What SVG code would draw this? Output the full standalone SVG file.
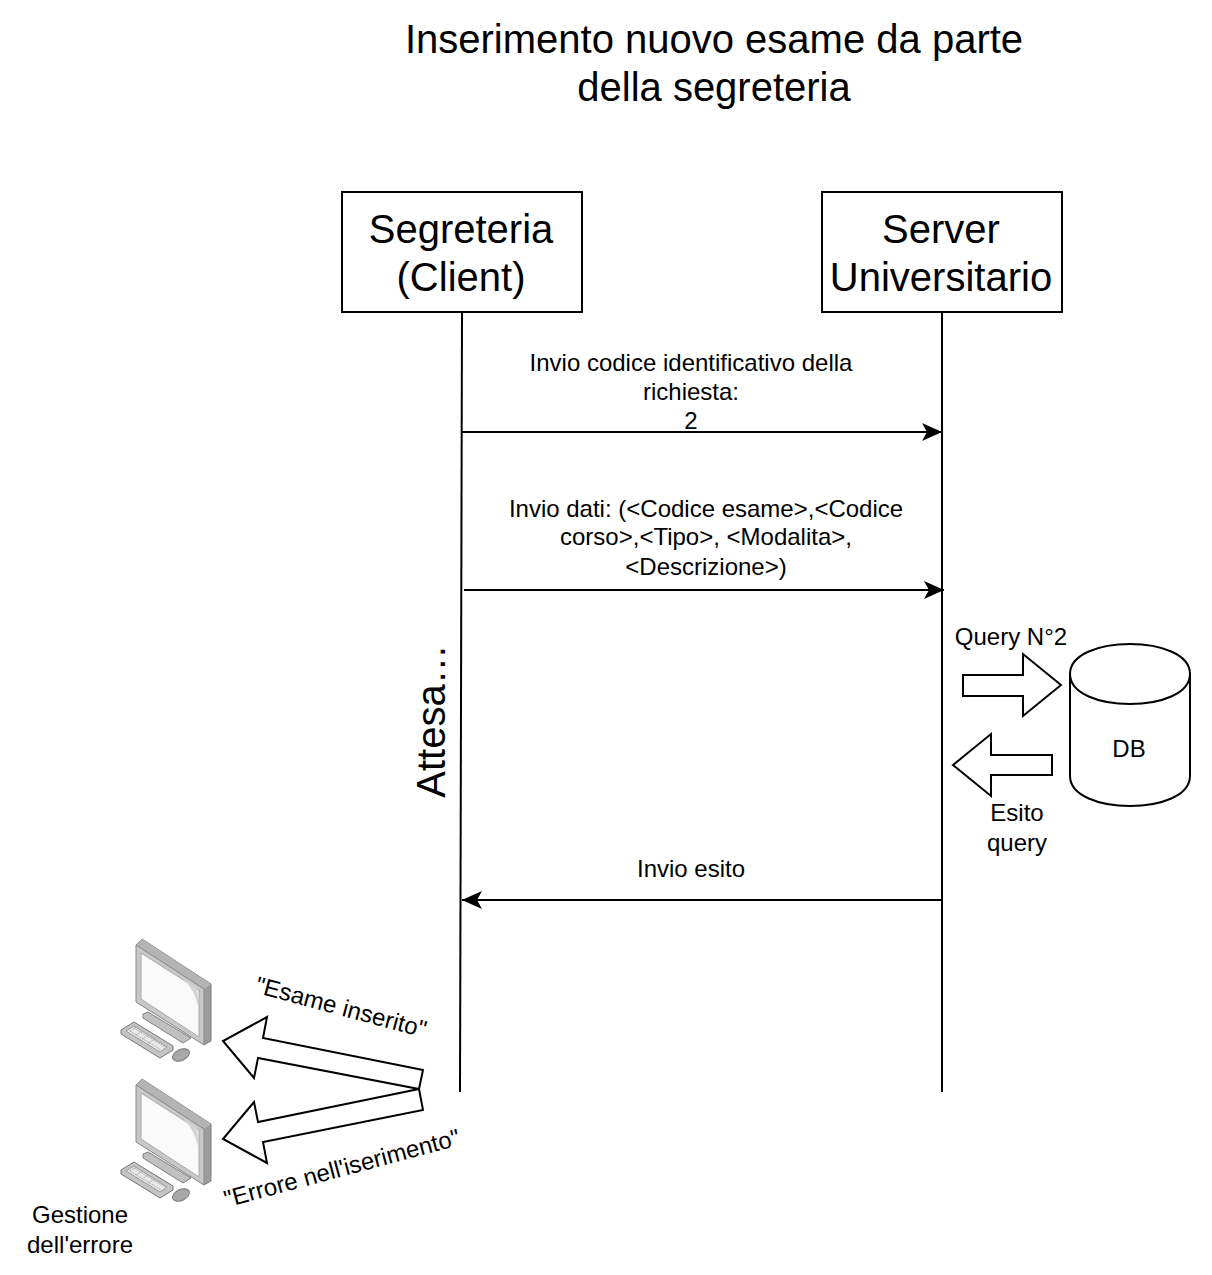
<svg xmlns="http://www.w3.org/2000/svg" width="1212" height="1275" viewBox="0 0 1212 1275">
<style>
text{font-family:"Liberation Sans",Arial,sans-serif;fill:#000;text-anchor:middle}
.t40{font-size:40px}.t24{font-size:24px}
.box{fill:#fff;stroke:#000;stroke-width:2}
.ln{fill:none;stroke:#000;stroke-width:2}
.sh{fill:#fff;stroke:#000;stroke-width:2;stroke-linejoin:miter}
</style>
<defs>
<marker id="ah" markerUnits="userSpaceOnUse" markerWidth="22" markerHeight="18" refX="20" refY="9" orient="auto"><path d="M0 0L20 9L0 18L5 9Z" fill="#000"/></marker>
<g id="pc">
<path d="M136 945L142 939L211 984V1041L204 1045Z" fill="#9c9c9c" stroke="#808080" stroke-width="1"/>
<path d="M136 945L142 939L211 984L204 989Z" fill="#b4b4b4"/>
<path d="M136 945L204 989V1045L136 1002Z" fill="#c8c8c8" stroke="#888" stroke-width="1"/>
<path d="M141 953L199 990V1037L141 999Z" fill="#fafafa" stroke="#a8a8a8" stroke-width="1"/>
<path d="M180 976L197 988L199 1012C197 997 191 985 180 976Z" fill="#d4d4d4"/>
<path d="M143 1014L148 1012L191 1038L183 1043L143 1018Z" fill="#c0c0c0" stroke="#808080"/>
<path d="M121 1030L134 1022L173 1046V1050L160 1058L121 1034Z" fill="#c4c4c4" stroke="#777"/>
<path d="M126 1031L134 1026L167 1047L160 1052Z" fill="#e8e8e8" stroke="#9a9a9a" stroke-width="1"/>
<path d="M130 1031L137 1027M136 1035L143 1031M142 1039L149 1035M148 1043L155 1039M130 1031L161 1050M134 1028L165 1047" fill="none" stroke="#9a9a9a" stroke-width="1" stroke-dasharray="1 1"/>
<ellipse cx="181" cy="1055" rx="9" ry="5.500" transform="rotate(-25 181 1055)" fill="#a8a8a8" stroke="#7a7a7a"/>
</g>
</defs>
<text class="t40" x="714" y="53">Inserimento nuovo esame da parte</text>
<text class="t40" x="714" y="101">della segreteria</text>
<g id="connectors">
<path class="ln" d="M462 312L460 1092"/>
<path class="ln" d="M942 312V1092"/>
<path class="ln" d="M462 432H942" marker-end="url(#ah)"/>
<path class="ln" d="M464 590H944" marker-end="url(#ah)"/>
<path class="ln" d="M942 900H462" marker-end="url(#ah)"/>
</g>
<g id="segreteria"><rect class="box" x="342" y="192" width="240" height="120"/>
<text class="t40" x="461" y="243">Segreteria</text><text class="t40" x="461" y="291">(Client)</text></g>
<g id="server"><rect class="box" x="822" y="192" width="240" height="120"/>
<text class="t40" x="941" y="243">Server</text><text class="t40" x="941" y="291">Universitario</text></g>
<g id="label-invio-codice"><text class="t24" x="691" y="371">Invio codice identificativo della</text><text class="t24" x="691" y="400">richiesta:</text><text class="t24" x="691" y="429">2</text></g>
<g id="label-invio-dati"><text class="t24" x="706" y="517">Invio dati: (&lt;Codice esame&gt;,&lt;Codice</text><text class="t24" x="706" y="545">corso&gt;,&lt;Tipo&gt;, &lt;Modalita&gt;,</text><text class="t24" x="706" y="575">&lt;Descrizione&gt;)</text></g>
<g id="label-attesa"><text class="t40" transform="translate(445 721) rotate(-90)">Attesa…</text></g>
<g id="label-query"><text class="t24" x="1011" y="645">Query N°2</text></g>
<g id="arrow-query"><path class="sh" d="M963 675H1023V654L1061 685L1023 716V696H963Z"/></g>
<g id="arrow-esito"><path class="sh" d="M1052 755H991V734L953 765L991 796V775H1052Z"/></g>
<g id="db"><path class="box" d="M1070 674C1070 634 1190 634 1190 674V776C1190 816 1070 816 1070 776Z"/><path class="ln" d="M1070 674C1070 714 1190 714 1190 674"/><text class="t24" x="1129" y="757">DB</text></g>
<g id="label-esito"><text class="t24" x="1017" y="821">Esito</text><text class="t24" x="1017" y="851">query</text></g>
<g id="label-invio-esito"><text class="t24" x="691" y="877">Invio esito</text></g>
<g id="pc-1"><use href="#pc"/></g>
<g id="pc-2"><use href="#pc" y="140"/></g>
<g id="arrow-ok"><path class="sh" d="M423 1070L263 1038L267 1017L223 1041L254 1078L258 1058L419 1089Z"/></g>
<g id="arrow-err"><path class="sh" d="M419 1089L258 1122L254 1102L223 1139L267 1163L263 1142L423 1110Z"/></g>
<g id="label-ok"><text class="t24" transform="translate(339 1015) rotate(15)">"Esame inserito"</text></g>
<g id="label-err"><text class="t24" transform="translate(344 1176) rotate(-15)">"Errore nell'iserimento"</text></g>
<g id="label-gestione"><text class="t24" x="80" y="1223">Gestione</text><text class="t24" x="80" y="1253">dell'errore</text></g>
</svg>
